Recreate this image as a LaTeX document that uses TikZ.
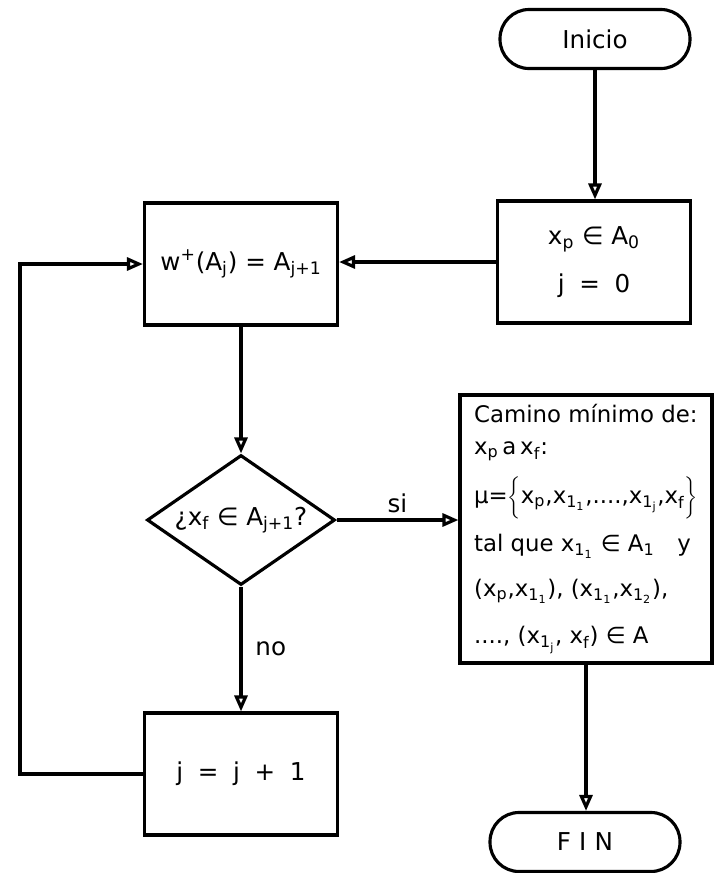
\documentclass[tikz,border=0pt]{standalone}
\usepackage{fontspec}
\setmainfont{DejaVu Sans}
\usetikzlibrary{shapes.geometric,arrows.meta,positioning}
\newcommand{\idx}[1]{\textsubscript{#1}}

\begin{document}
\begin{tikzpicture}[x=0.02cm,y=-0.02cm,
    font=\fontsize{14}{17}\selectfont,
    box/.style={draw, line width=1.8pt, minimum width=3.86cm,
      minimum height=2.44cm, align=center},
    term/.style={draw, line width=1.8pt, rounded corners=0.58cm,
      minimum width=3.8cm, minimum height=1.18cm},
    test/.style={draw, line width=1.8pt, diamond, aspect=1.45,
      minimum width=3.76cm, minimum height=2.6cm, inner sep=0pt},
    flow/.style={line width=1.8pt,
      -{Triangle[open, length=0.32cm, width=0.26cm]}}]
  \useasboundingbox (0,0) rectangle (714,873);

  % right column
  \node[term] (inicio) at (595,39) {Inicio};
  \node[box] (init) at (594,262)
    {x\idx{p} ∈ A\idx{0}\\[10pt] j \;=\; 0};
  \node[box, minimum width=5.04cm, minimum height=5.36cm, align=left,
    inner sep=2pt, font=\fontsize{13}{16}\selectfont] (sol) at (586,529)
    {Camino mínimo de:\\[2pt]
     x\idx{p}\,a\,x\idx{f}:\\[8pt]
     μ=$\biggl\{$x\idx{p},x\idx{1\idx{1}},....,x\idx{1\idx{j}},x\idx{f}$\biggr\}$\\[7.5pt]
     tal que x\idx{1\idx{1}} ∈ A\idx{1}\quad y\\[9.5pt]
     (x\idx{p},x\idx{1\idx{1}}), (x\idx{1\idx{1}},x\idx{1\idx{2}}),\\[11pt]
     ...., (x\idx{1\idx{j}}, x\idx{f}) ∈ A};
  \node[term] (fin) at (585,842) {F\,\,I\,\,N};

  % left column
  \node[box] (map) at (241,264)
    {w\textsuperscript{+}(A\idx{j}) = A\idx{j+1}};
  \node[test] (check) at (241,520) {¿x\idx{f} ∈ A\idx{j+1}?};
  \node[box] (step) at (241,774) {j \;=\; j \;+\; 1};
  \coordinate (back) at (20,0);

  % connectors
  \draw[flow] (inicio.south) -- (inicio.south |- init.north);
  \draw[flow] (init.west) -- (init.west -| map.east);
  \draw[flow] (map.south) -- (check.north);
  \draw[flow] (check.east) -- node[above] {si} (check.east -| sol.west);
  \draw[flow] (check.south) -- node[right=4pt] {no} (step.north);
  \draw[flow] (step.west) -- (step.west -| back) |- (map.west);
  \draw[flow] (sol.south) -- (sol.south |- fin.north);
\end{tikzpicture}
\end{document}
